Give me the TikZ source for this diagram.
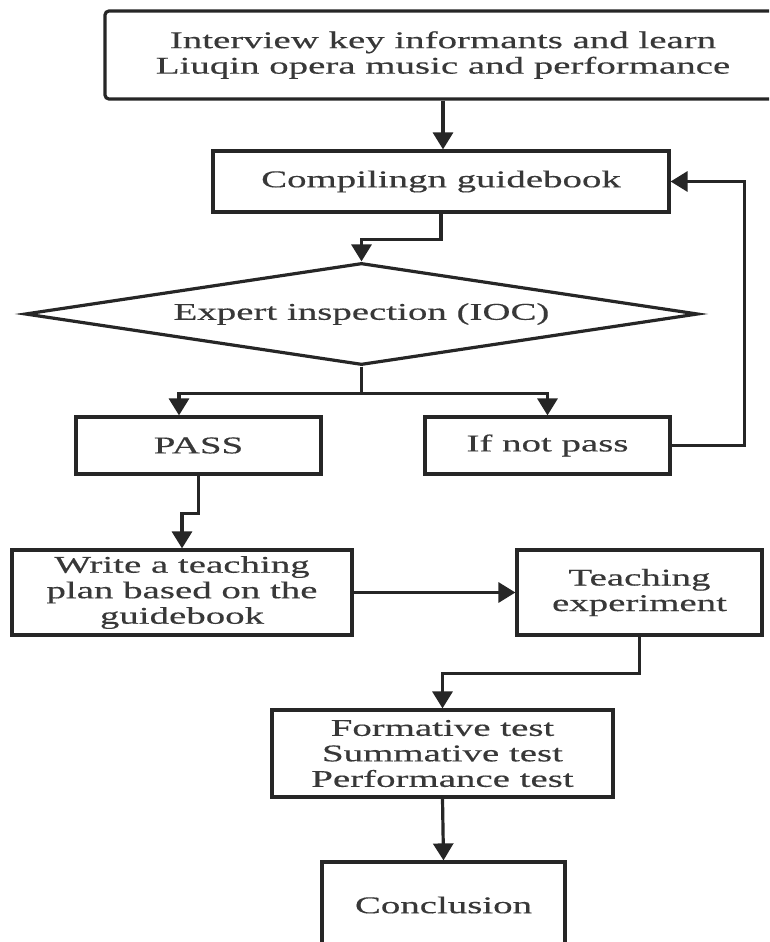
\documentclass[tikz,border=0pt]{standalone}
\usepackage{fontspec}
\setmainfont{Liberation Serif}[FakeStretch=1.62, FakeBold=0.4]
\usepackage{tikz}
\usetikzlibrary{arrows.meta, shapes.geometric}
\definecolor{ink}{HTML}{262626}
\definecolor{txt}{HTML}{383838}
\tikzset{
  box/.style={draw=ink, line width=3.2pt, fill=white, text=txt, align=center,
    inner sep=0pt, font=\fontsize{24}{25.5}\selectfont},
  rbox/.style={box, rounded corners=4pt},
  diam/.style={box, shape=diamond, shape aspect=6.6},
  arr/.style={-{Triangle[length=17pt, width=20pt]}, draw=ink, line width=3.2pt},
}

\begin{document}
\begin{tikzpicture}[x=1pt, y=-1pt]
    \useasboundingbox (0,0) rectangle (769,942);
    \clip (0,0) rectangle (769,942);
    \fill[white] (0,0) rectangle (769,942);
    % nodes
    \node[rbox, minimum width=676pt, minimum height=88pt] (interview) at (443,55)
      {Interview key informants and learn\\Liuqin opera music and performance};
    \node[box, minimum width=456pt, minimum height=61pt] (compile) at (441,181.5)
      {Compilingn guidebook};
    \node[diam, minimum width=673pt, minimum height=102pt] (ioc) at (361.5,314)
      {Expert inspection (IOC)};
    \node[box, minimum width=245pt, minimum height=57pt] (pass) at (198.5,445.5) {PASS};
    \node[box, minimum width=245pt, minimum height=57pt] (notpass) at (547.5,445.5) {If not pass};
    \node[box, minimum width=340pt, minimum height=85pt] (plan) at (182,592.5)
      {Write a teaching\\plan based on the\\guidebook};
    \node[box, minimum width=245pt, minimum height=85pt] (teach) at (639.5,592.5)
      {Teaching\\experiment};
    \node[box, minimum width=341pt, minimum height=87pt] (tests) at (442.5,753.5)
      {Formative test\\Summative test\\Performance test};
    \node[box, minimum width=243pt, minimum height=86pt] (concl) at (443.5,905) {Conclusion};
    % connectors
    \draw[arr] (interview.south) -- (interview.south |- compile.north);
    \draw[arr] (compile.south) -- ++(0,25.5) -| (ioc.north);
    \draw[arr] (ioc.south) -- ++(0,27) -| ([xshift=-19.5pt]pass.north);
    \draw[arr] (ioc.south) -- ++(0,27) -| (notpass.north);
    \draw[arr] (notpass.east) -- ++(73,0) |- (compile.east);
    \draw[arr] (pass.south) -- ++(0,38) -| (plan.north);
    \draw[arr] (plan.east) -- (teach.west);
    \draw[arr] (teach.south) -- ++(0,37) -| (tests.north);
    \draw[arr] (tests.south) -- (concl.north);
\end{tikzpicture}
\end{document}
